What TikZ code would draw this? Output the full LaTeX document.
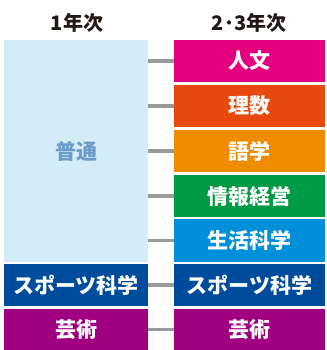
\documentclass[tikz,border=0pt]{standalone}
\usepackage{fontspec}
\newfontfamily\jp{Noto Sans CJK JP}
\newfontfamily\jpblack{Noto Sans CJK JP Black}
\definecolor{hdr}{HTML}{231815}
\definecolor{cjinbun}{HTML}{E4007F}
\definecolor{crisu}{HTML}{E8490F}
\definecolor{cgogaku}{HTML}{F08C00}
\definecolor{cjoho}{HTML}{009944}
\definecolor{cseikatsu}{HTML}{0090D9}
\definecolor{csports}{HTML}{004C9C}
\definecolor{cgeijutsu}{HTML}{A0007F}
\definecolor{cfutsu}{HTML}{D4EBF8}
\definecolor{cfutsutxt}{HTML}{6B9BC8}
\definecolor{conn}{HTML}{9A9A9A}
\begin{document}
\begin{tikzpicture}[x=1pt,y=-1pt,
  box/.style={inner sep=0pt,outer sep=0pt,font=\jpblack\fontsize{21}{23}\selectfont,text=white},
  hdrtxt/.style={font=\jp\bfseries\fontsize{20}{22}\selectfont,text=hdr,inner sep=0pt},
  link/.style={draw=conn,line width=3.5pt}]
\useasboundingbox (0,0) rectangle (326,350);
\node[hdrtxt] (h1) at (77,23) {1年次};
\node[hdrtxt] (h2) at (249,23) {2･3年次};
% left column
\node[box,fill=cfutsu,text=cfutsutxt,minimum width=144pt,minimum height=222pt,anchor=north west] (futsu) at (4,40) {};
\node[font=\jpblack\fontsize{21}{23}\selectfont,text=cfutsutxt] (futsutxt) at (76,151) {普通};
\node[box,fill=csports,minimum width=144pt,minimum height=42pt,anchor=north west] (lsports) at (4,264) {スポーツ科学};
\node[box,fill=cgeijutsu,minimum width=144pt,minimum height=41pt,anchor=north west] (lgei) at (4,309) {芸術};
% right column
\node[box,fill=cjinbun,minimum width=151pt,minimum height=42pt,anchor=north west] (r1) at (174,40) {人文};
\node[box,fill=crisu,minimum width=151pt,minimum height=42pt,anchor=north west] (r2) at (174,85) {理数};
\node[box,fill=cgogaku,minimum width=151pt,minimum height=42pt,anchor=north west] (r3) at (174,130) {語学};
\node[box,fill=cjoho,minimum width=151pt,minimum height=42pt,anchor=north west] (r4) at (174,175) {情報経営};
\node[box,fill=cseikatsu,minimum width=151pt,minimum height=43pt,anchor=north west] (r5) at (174,219) {生活科学};
\node[box,fill=csports,minimum width=151pt,minimum height=42pt,anchor=north west] (r6) at (174,264) {スポーツ科学};
\node[box,fill=cgeijutsu,minimum width=151pt,minimum height=41pt,anchor=north west] (r7) at (174,309) {芸術};
% connectors
\foreach \r in {r1,r2,r3,r4,r5}{
  \draw[link] (\r.west -| futsu.east) -- (\r.west);
}
\draw[link] (lsports.east) -- (r6.west);
\draw[link] (lgei.east) -- (r7.west);
\end{tikzpicture}
\end{document}
